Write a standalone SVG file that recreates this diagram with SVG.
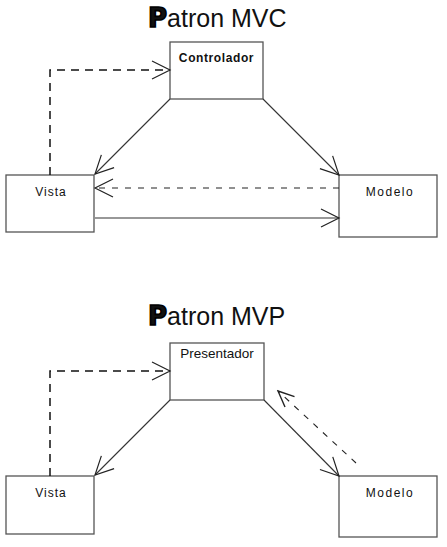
<svg xmlns="http://www.w3.org/2000/svg" width="447" height="547" viewBox="0 0 447 547">
<defs>
<style>
.title{font-family:"Liberation Sans",Arial,sans-serif;font-size:25px;fill:#111}
.tp{font-family:"DejaVu Sans",sans-serif;font-weight:bold;font-size:26px;stroke:#000;stroke-width:1.6}
.box{fill:#fff;stroke:#555;stroke-width:1.3}
.lbl{font-family:"Liberation Sans",Arial,sans-serif;font-size:12px;fill:#111;text-anchor:middle}
.ln{fill:none;stroke:#333;stroke-width:1.1}
.dash{fill:none;stroke:#111;stroke-width:1.5;stroke-dasharray:8 6}
.dash2{fill:none;stroke:#222;stroke-width:1.1;stroke-dasharray:6 7}
</style>
<marker id="ah" markerUnits="userSpaceOnUse" markerWidth="22" markerHeight="24" viewBox="-20 -11 22 22" refX="0" refY="0" orient="auto">
<path d="M-18,-9 L0,0 L-18,9" fill="none" stroke="#222" stroke-width="1.2" stroke-dasharray="none"/>
</marker>
<marker id="ah2" markerUnits="userSpaceOnUse" markerWidth="22" markerHeight="24" viewBox="-20 -11 22 22" refX="0" refY="0" orient="auto">
<path d="M-16,-7 L0,0 L-16,7" fill="none" stroke="#222" stroke-width="1.4" stroke-dasharray="none"/>
</marker>
</defs>
<rect width="447" height="547" fill="#fff"/>

<g id="title-mvc"><text class="title" x="148" y="27"><tspan class="tp">P</tspan>atron MVC</text></g>
<g id="title-mvp"><text class="title" x="148" y="325"><tspan class="tp">P</tspan>atron MVP</text></g>

<g id="controlador"><rect class="box" x="170" y="42" width="93" height="57"/><text class="lbl" x="216.5" y="62" style="font-weight:bold;letter-spacing:0.6px">Controlador</text></g>
<g id="vista-mvc"><rect class="box" x="6" y="175" width="88" height="57"/><text class="lbl" x="51" y="196" style="letter-spacing:1px">Vista</text></g>
<g id="modelo-mvc"><rect class="box" x="339" y="175" width="98" height="62"/><text class="lbl" x="390" y="196" style="letter-spacing:1.5px">Modelo</text></g>

<g id="presentador"><rect class="box" x="170" y="343" width="94" height="57"/><text class="lbl" x="217" y="358" style="font-size:13.5px">Presentador</text></g>
<g id="vista-mvp"><rect class="box" x="6" y="476" width="88" height="58"/><text class="lbl" x="51" y="497" style="letter-spacing:1px">Vista</text></g>
<g id="modelo-mvp"><rect class="box" x="339" y="476" width="98" height="61"/><text class="lbl" x="390" y="497" style="letter-spacing:1.5px">Modelo</text></g>

<g id="connectors">
<path class="dash" d="M50,175 L50,70 L170,70" marker-end="url(#ah)"/>
<path class="ln" d="M170,99 L95,174" marker-end="url(#ah)"/>
<path class="ln" d="M263,99 L339,175" marker-end="url(#ah)"/>
<path class="dash2" d="M339,188 L95,188" marker-end="url(#ah)"/>
<path class="ln" d="M95,218 L339,218" marker-end="url(#ah)"/>

<path class="dash" d="M50,476 L50,371 L170,371" marker-end="url(#ah)"/>
<path class="ln" d="M170,400 L95,475" marker-end="url(#ah)"/>
<path class="ln" d="M264,400 L339,476" marker-end="url(#ah)"/>
<path class="dash2" d="M356,463 L278,391" marker-end="url(#ah2)"/>
</g>
</svg>
